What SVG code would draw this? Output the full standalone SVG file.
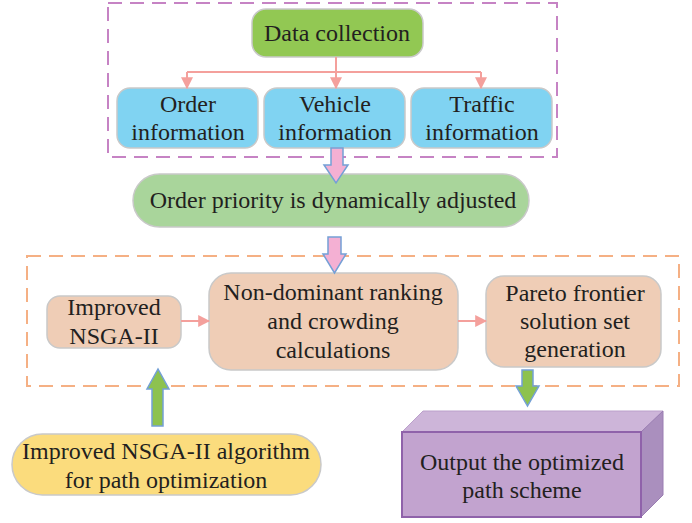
<svg xmlns="http://www.w3.org/2000/svg" width="692" height="523" viewBox="0 0 692 523">
  <defs>
    <style>
      .label { font-family: 'Liberation Serif', 'DejaVu Serif', serif; font-size: 24px; fill: #231f20; text-anchor: middle; }
      .box { stroke: #c9c9c9; stroke-width: 1.5; }
      .green { fill: #92c853; }
      .blue { fill: #80d3f2; }
      .lgreen { fill: #a9d59b; }
      .peach { fill: #efcdb6; }
      .yellow { fill: #fbdc7d; }
      .frame { fill: none; stroke-width: 2; stroke-dasharray: 14 8; }
      .link { fill: none; stroke: #f4a09c; stroke-width: 2; }
      .pinkArrow { fill: #f4b0d3; stroke: #74a0d6; stroke-width: 1.5; }
      .greenArrow { fill: #8dc24f; stroke: #74a0d6; stroke-width: 1.5; }
    </style>
    <marker id="head" viewBox="0 0 10 10" refX="9" refY="5" markerWidth="6" markerHeight="6" orient="auto" markerUnits="strokeWidth">
      <path d="M0,0 L10,5 L0,10 z" fill="#f4a09c"/>
    </marker>
  </defs>

  <rect width="692" height="523" fill="#ffffff"/>

  <!-- dashed group frames -->
  <rect class="frame" x="108" y="3" width="449" height="154" stroke="#c683c4"/>
  <rect class="frame" x="27" y="256" width="652" height="130" stroke="#f5b084"/>

  <g font-family="Liberation Serif, DejaVu Serif, serif" font-size="24" text-anchor="middle" fill="#231f20">
  <g id="data-collection">
    <rect class="box green" x="252" y="9" width="171" height="48" rx="14"/>
    <text class="label" x="337" y="41">Data collection</text>
  </g>

  <g id="order-info">
    <rect class="box blue" x="117" y="88" width="141" height="60" rx="13"/>
    <text class="label" x="188" y="112">Order</text>
    <text class="label" x="188" y="140">information</text>
  </g>

  <g id="vehicle-info">
    <rect class="box blue" x="264" y="88" width="141" height="60" rx="13"/>
    <text class="label" x="335" y="112">Vehicle</text>
    <text class="label" x="335" y="140">information</text>
  </g>

  <g id="traffic-info">
    <rect class="box blue" x="411" y="88" width="141" height="60" rx="13"/>
    <text class="label" x="482" y="112">Traffic</text>
    <text class="label" x="482" y="140">information</text>
  </g>

  <g id="priority">
    <rect class="box lgreen" x="133" y="174" width="396" height="53" rx="26.5"/>
    <text class="label" x="333" y="208">Order priority is dynamically adjusted</text>
  </g>

  <g id="improved-nsga">
    <rect class="box peach" x="47" y="296" width="134" height="52" rx="13"/>
    <text class="label" x="114" y="315">Improved</text>
    <text class="label" x="114" y="344">NSGA-II</text>
  </g>

  <g id="ranking">
    <rect class="box peach" x="209" y="273" width="249" height="97" rx="22"/>
    <text class="label" x="333" y="300">Non-dominant ranking</text>
    <text class="label" x="333" y="329">and crowding</text>
    <text class="label" x="333" y="358">calculations</text>
  </g>

  <g id="pareto">
    <rect class="box peach" x="486" y="276" width="175" height="91" rx="18"/>
    <text class="label" x="575" y="301">Pareto frontier</text>
    <text class="label" x="575" y="329">solution set</text>
    <text class="label" x="575" y="357">generation</text>
  </g>

  <g id="algorithm">
    <rect class="box yellow" x="12" y="434" width="309" height="61" rx="30.5"/>
    <text class="label" x="166" y="459">Improved NSGA-II algorithm</text>
    <text class="label" x="166" y="488">for path optimization</text>
  </g>

  <g id="output">
    <polygon points="402,432 423,411 663,411 641,432" fill="#cdb5d9" stroke="#bba0cb" stroke-width="1"/>
    <polygon points="641,432 663,411 663,495 641,517" fill="#aa8fbe" stroke="#9a7db2" stroke-width="1"/>
    <rect x="402" y="432" width="239" height="85" fill="#c2a3cf" stroke="#8f62aa" stroke-width="2"/>
    <text class="label" x="522" y="470">Output the optimized</text>
    <text class="label" x="522" y="498">path scheme</text>
  </g>
  </g>

  <g id="connectors">
    <!-- fan-out from data collection -->
    <path class="link" d="M336,57 V72"/>
    <path class="link" d="M187,72 H481"/>
    <path class="link" d="M187,72 V88" marker-end="url(#head)"/>
    <path class="link" d="M336,72 V88" marker-end="url(#head)"/>
    <path class="link" d="M481,72 V88" marker-end="url(#head)"/>
    <!-- flow inside the optimisation stage -->
    <path class="link" d="M181,321 H209" marker-end="url(#head)"/>
    <path class="link" d="M458,321 H486" marker-end="url(#head)"/>
    <!-- block arrows between stages -->
    <polygon class="pinkArrow" points="331,148 343,148 343,165 348,165 336,183 324,165 331,165"/>
    <polygon class="pinkArrow" points="328,237 341,237 341,254 346,254 334.5,273 323,254 328,254"/>
    <polygon class="greenArrow" points="152,426 152,389 147,389 158,369 169,389 163,389 163,426"/>
    <polygon class="greenArrow" points="522,370 533,370 533,386 539,386 527.5,406 516,386 522,386"/>
  </g>
</svg>
